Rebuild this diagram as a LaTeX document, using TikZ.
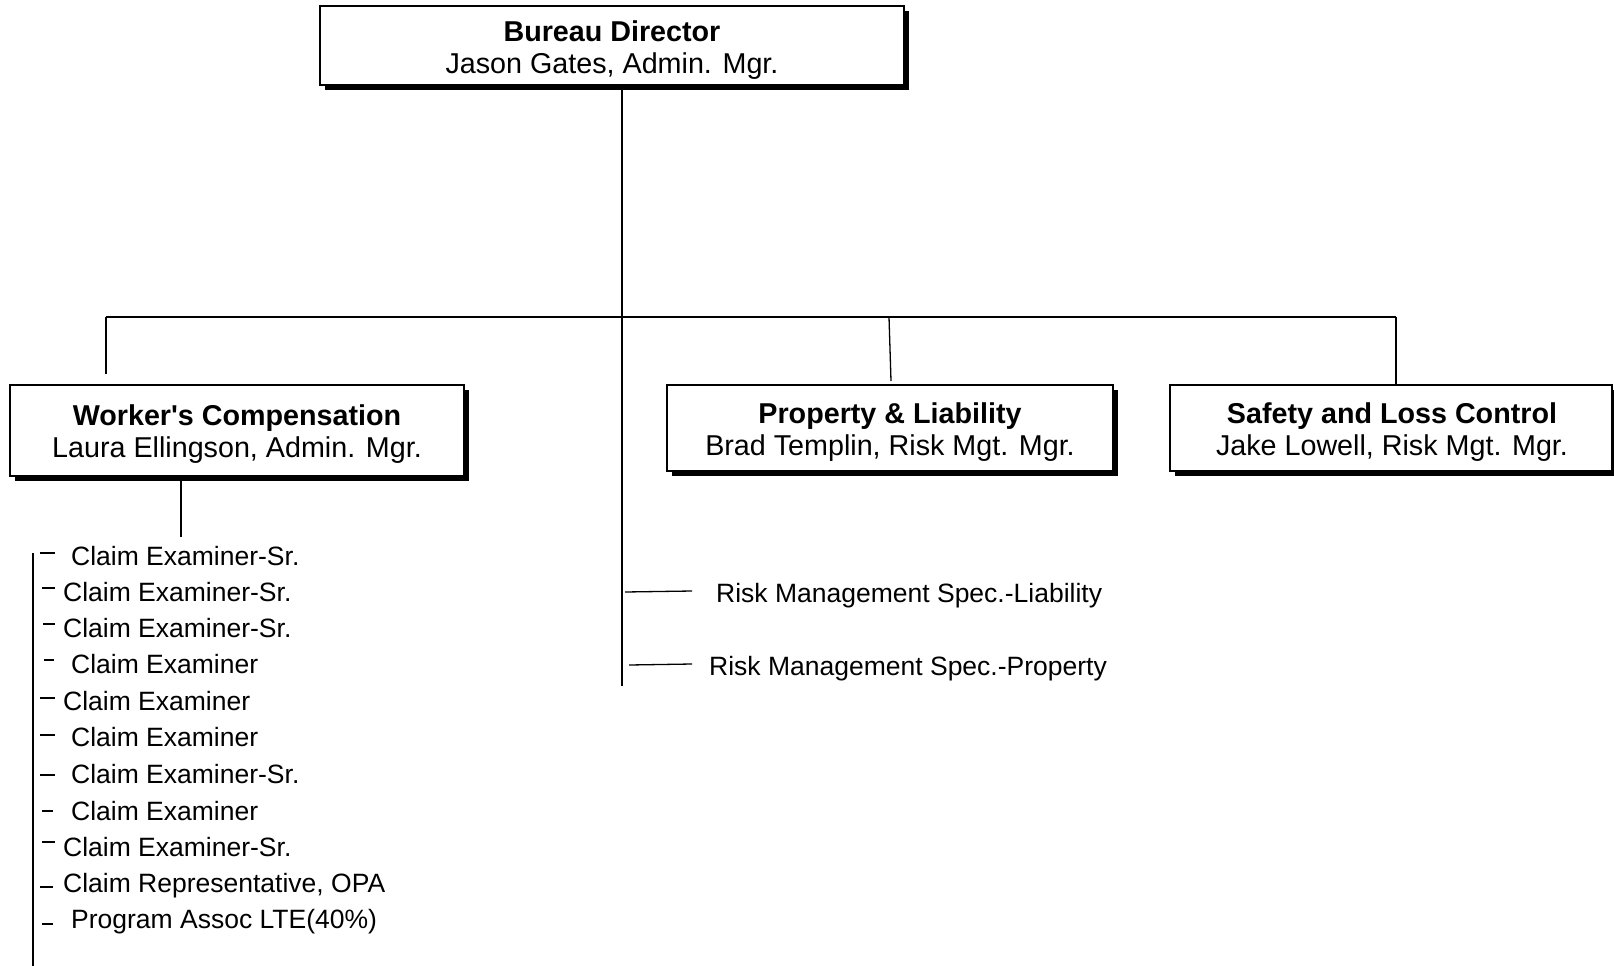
\documentclass[tikz,border=0pt]{standalone}
\usepackage{fontspec}
\setmainfont{Liberation Sans}
\newfontfamily\arialfam{Liberation Sans}
\usetikzlibrary{shadows}
\begin{document}
\begin{tikzpicture}[x=1pt,y=-1pt,
  orgbox/.style={draw=black, line width=1.2pt, fill=white, inner sep=0pt,
    drop shadow={shadow xshift=5pt, shadow yshift=-5pt, fill=black, opacity=1}},
  boxtext/.style={align=center, inner sep=0pt, font=\arialfam\fontsize{28.7}{32}\selectfont},
  conn/.style={line width=1.3pt},
  item/.style={anchor=base west, inner sep=0pt, font=\arialfam\fontsize{26.5}{30}\selectfont},
  tick/.style={line width=1.2pt}]
\useasboundingbox (0,0) rectangle (1614,966);

% boxes
\node[orgbox, minimum width=584pt, minimum height=79pt] (dir) at (612,45.5) {};
\node[boxtext] (dirt) at ([yshift=-4.5pt]dir.center)
  {\textbf{Bureau Director}\\Jason Gates, Admin. Mgr.};
\node[orgbox, minimum width=454pt, minimum height=91pt] (wc) at (237,430.5) {};
\node[boxtext] (wct) at ([yshift=-4pt]wc.center)
  {\textbf{Worker's Compensation}\\Laura Ellingson, Admin. Mgr.};
\node[orgbox, minimum width=446pt, minimum height=86pt] (pl) at (890,428) {};
\node[boxtext] (plt) at ([yshift=-4pt]pl.center)
  {\textbf{Property \& Liability}\\Brad Templin, Risk Mgt. Mgr.};
\node[orgbox, minimum width=442pt, minimum height=86pt] (slc) at (1391,428) {};
\node[boxtext] (slct) at ([yshift=-4pt,xshift=1pt]slc.center)
  {\textbf{Safety and Loss Control}\\Jake Lowell, Risk Mgt. Mgr.};

% connectors
\coordinate (trunk) at (622,686);
\coordinate (busL) at (106,317);
\coordinate (busR) at (1396,317);
\coordinate (wcdrop) at (106,374);
\coordinate (plbus) at (889,317);
\coordinate (pldrop) at (891,381);
\draw[conn] (dir.south -| trunk) -- (trunk);
\draw[conn] (busL) -- (busR);
\draw[conn] (busL) -- (wcdrop);
\draw[conn] (plbus) -- (pldrop);
\draw[conn] (busR) -- (busR |- slc.north);

\coordinate (wcend) at (181,537);
\draw[line width=2.6pt] (wc.south -| wcend) -- (wcend);
\coordinate (listtop) at (33,553);
\coordinate (listbot) at (33,966);
\draw[conn] (listtop) -- (listbot);

% list items
\node[item] (i1) at (71,565.5) {Claim Examiner-Sr.};
\node[item] (i2) at (63,601.5) {Claim Examiner-Sr.};
\node[item] (i3) at (63,637.5) {Claim Examiner-Sr.};
\node[item] (i4) at (71,673.5) {Claim Examiner};
\node[item] (i5) at (63,710.5) {Claim Examiner};
\node[item] (i6) at (71,746.5) {Claim Examiner};
\node[item] (i7) at (71,783.5) {Claim Examiner-Sr.};
\node[item] (i8) at (71,820.5) {Claim Examiner};
\node[item] (i9) at (63,856.5) {Claim Examiner-Sr.};
\node[item] (i10) at (63,892) {Claim Representative, OPA};
\node[item] (i11) at (71,928.5) {Program Assoc LTE(40\%)};

\draw[tick] (40,553) -- (55,553);
\draw[tick] (42,588) -- (55,588);
\draw[tick] (43,624) -- (55,624);
\draw[tick] (44,660) -- (54,660);
\draw[tick] (40,698) -- (55,698);
\draw[tick] (40,735) -- (55,735);
\draw[tick] (40,775) -- (55,775);
\draw[tick] (42,811) -- (53,811);
\draw[tick] (42,842) -- (55,842);
\draw[tick] (40,887) -- (53,887);
\draw[tick] (42,924) -- (53,924);

% risk management
\node[item] (rl) at (716,602) {Risk Management Spec.-Liability};
\node[item] (rp) at (709,675) {Risk Management Spec.-Property};
\coordinate (rl0) at (625,592);
\coordinate (rl1) at (692,591);
\coordinate (rp0) at (629,665);
\coordinate (rp1) at (692,664);
\draw[conn] (rl0) -- (rl1);
\draw[conn] (rp0) -- (rp1);
\end{tikzpicture}
\end{document}
